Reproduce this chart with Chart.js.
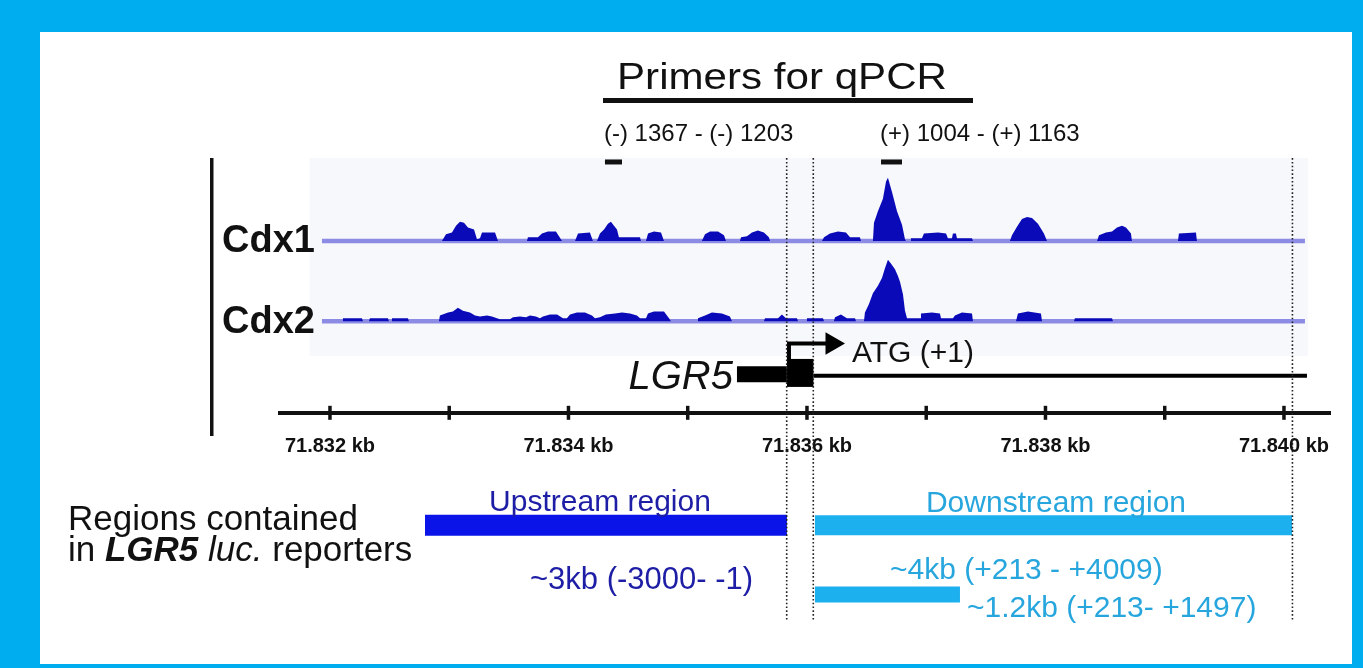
<!DOCTYPE html>
<html>
<head>
<meta charset="utf-8">
<script src="https://cdn.jsdelivr.net/npm/chart.js@4.4.1/dist/chart.umd.min.js"></script>
<style>
  html, body { margin: 0; padding: 0; }
  body { width: 1363px; height: 668px; background: #00aeef; position: relative; overflow: hidden; }
  #panel { position: absolute; left: 40px; top: 32px; width: 1312px; height: 632px; background: #fff; }
  #wrap { position: absolute; left: 0; top: 0; width: 1363px; height: 668px; }
</style>
</head>
<body>
<div id="panel"></div>
<div id="wrap"><canvas id="fig"></canvas></div>
<script>
// ---- values: positions in kb, coverage in arbitrary units ----
const tickValues = [71832, 71833, 71834, 71835, 71836, 71837, 71838, 71839, 71840];
const tickLabels = ['71.832 kb', '', '71.834 kb', '', '71.836 kb', '', '71.838 kb', '', '71.840 kb'];

const cdx1Coverage = [
  [71831.933, 0], [71832.939, 0], [71832.973, 7], [71833.023, 9], [71833.057, 16], [71833.090, 20],
  [71833.124, 19], [71833.157, 14], [71833.208, 12], [71833.233, 2], [71833.258, 3], [71833.275, 9],
  [71833.384, 9], [71833.409, 0],
  [71833.652, 0], [71833.660, 4], [71833.744, 4], [71833.778, 8], [71833.828, 10], [71833.895, 10], [71833.946, 0],
  [71834.055, 0], [71834.080, 8], [71834.180, 9], [71834.205, 0],
  [71834.239, 0], [71834.264, 8], [71834.298, 12], [71834.331, 18], [71834.356, 20], [71834.382, 16],
  [71834.407, 12], [71834.423, 4], [71834.600, 4], [71834.608, 0],
  [71834.650, 0], [71834.667, 8], [71834.717, 10], [71834.776, 9], [71834.801, 0],
  [71835.119, 0], [71835.145, 7], [71835.187, 10], [71835.254, 10], [71835.304, 6], [71835.321, 0],
  [71835.438, 0], [71835.447, 4], [71835.497, 5], [71835.539, 9], [71835.589, 11], [71835.639, 9],
  [71835.681, 4], [71835.690, 0],
  [71836.126, 0], [71836.143, 4], [71836.193, 8], [71836.260, 10], [71836.327, 9], [71836.361, 4],
  [71836.444, 4], [71836.453, 0],
  [71836.553, 0], [71836.562, 19], [71836.595, 31], [71836.637, 44], [71836.663, 62], [71836.679, 66],
  [71836.713, 51], [71836.755, 31], [71836.797, 17], [71836.822, 2], [71836.830, 0],
  [71836.864, 0], [71836.872, 3], [71836.964, 3], [71836.981, 8], [71837.099, 9], [71837.166, 8],
  [71837.182, 3], [71837.216, 3], [71837.224, 8], [71837.249, 8], [71837.258, 3], [71837.384, 3], [71837.392, 0],
  [71837.702, 0], [71837.719, 6], [71837.761, 15], [71837.803, 23], [71837.845, 25], [71837.887, 24],
  [71837.937, 18], [71837.987, 8], [71838.013, 0],
  [71838.432, 0], [71838.449, 6], [71838.507, 9], [71838.558, 10], [71838.600, 14], [71838.642, 16],
  [71838.675, 14], [71838.717, 8], [71838.725, 0],
  [71839.111, 0], [71839.119, 8], [71839.262, 9], [71839.270, 0],
  [71840.176, 0]
];

const cdx2Coverage = [
  [71831.933, 0], [71832.101, 0], [71832.109, 3], [71832.268, 3], [71832.277, 0], [71832.327, 0],
  [71832.335, 3], [71832.486, 3], [71832.495, 0], [71832.512, 0], [71832.520, 3], [71832.654, 3], [71832.662, 0],
  [71832.914, 0], [71832.922, 6], [71832.990, 9], [71833.031, 10], [71833.073, 14], [71833.115, 11],
  [71833.174, 9], [71833.216, 6], [71833.258, 5], [71833.317, 6], [71833.358, 5], [71833.400, 3],
  [71833.426, 2], [71833.509, 2], [71833.535, 4], [71833.593, 5], [71833.644, 4], [71833.677, 6],
  [71833.727, 5], [71833.761, 3], [71833.786, 5], [71833.845, 7], [71833.904, 7], [71833.954, 3],
  [71833.987, 3], [71834.013, 7], [71834.071, 9], [71834.138, 9], [71834.197, 6], [71834.222, 3],
  [71834.264, 4], [71834.314, 7], [71834.390, 8], [71834.449, 9], [71834.516, 8], [71834.574, 6],
  [71834.600, 3], [71834.650, 3], [71834.667, 8], [71834.717, 10], [71834.801, 10], [71834.843, 3], [71834.860, 0],
  [71835.078, 0], [71835.086, 3], [71835.145, 6], [71835.203, 9], [71835.287, 8], [71835.354, 5], [71835.371, 0],
  [71835.639, 0], [71835.648, 3], [71835.757, 3], [71835.790, 7], [71835.824, 3], [71835.916, 3], [71835.925, 0],
  [71835.992, 0], [71836.000, 3], [71836.134, 3], [71836.143, 0],
  [71836.226, 0], [71836.235, 4], [71836.285, 7], [71836.335, 3], [71836.403, 3], [71836.411, 0],
  [71836.478, 0], [71836.486, 9], [71836.520, 18], [71836.553, 29], [71836.595, 37], [71836.629, 45],
  [71836.654, 55], [71836.679, 64], [71836.704, 60], [71836.738, 54], [71836.763, 47], [71836.780, 41],
  [71836.805, 28], [71836.822, 11], [71836.839, 3], [71836.948, 3], [71836.956, 8], [71837.048, 9],
  [71837.115, 8], [71837.124, 3], [71837.224, 3], [71837.241, 6], [71837.300, 9], [71837.384, 8], [71837.392, 0],
  [71837.753, 0], [71837.769, 8], [71837.853, 10], [71837.962, 8], [71837.971, 0],
  [71838.239, 0], [71838.247, 3], [71838.558, 3], [71838.566, 0],
  [71840.176, 0]
];

const trackSpan = [71831.933, 71840.176];
const primerRanges = [[71834.306, 71834.449], [71836.621, 71836.797]];
const primerLabels = ['(-) 1367 - (-) 1203', '(+) 1004 - (+) 1163'];
const geneUtr = [71835.413, 71835.832];
const geneExon = [71835.832, 71836.054];
const geneIntron = [71836.054, 71840.193];
const tssArrow = [71835.849, 71836.21];
const boundaryLines = [71835.830, 71836.053, 71840.071];
const upstreamRegion = [71832.797, 71835.832];
const downstreamRegion = [71836.067, 71840.067];
const shortDownstream = [71836.067, 71837.283];

// ---- layout ----
const FONT = '"Liberation Sans", Arial, Helvetica, sans-serif';
const ROW = { primer: 155, gene: 376, arrow: 344, axis: 416, regions: 533, short: 605, dotTop: 151, dotBottom: 633 };
const CDX1_BASE = 237.3, CDX2_BASE = 320.7, H = 668;
const COV = '#0a0ab8', BASE = '#8c8ce4';
const UP_BAR = '#0a14e8', UP_TXT = '#1d1da6', DN_BAR = '#1cb0ee', DN_TXT = '#27a6de';

Chart.defaults.font.family = FONT;

// a straight segment between two kb positions on one row
function seg(range, y, color, width, order) {
  return {
    data: [{ x: range[0], y: y }, { x: range[1], y: y }],
    yAxisID: 'yPx', borderColor: color, borderWidth: width, borderCapStyle: 'butt',
    pointRadius: 0, fill: false, order: order === undefined ? 2 : order
  };
}

function coverage(points, axis) {
  return {
    data: points.map(p => ({ x: p[0], y: p[1] })),
    yAxisID: axis, borderColor: 'rgba(0,0,0,0)', backgroundColor: COV, borderWidth: 1,
    fill: 'origin', pointRadius: 0, tension: 0, order: 3
  };
}

function baseline(axis) {
  return {
    data: [{ x: trackSpan[0], y: 0 }, { x: trackSpan[1], y: 0 }],
    yAxisID: axis, borderColor: BASE, borderWidth: 4.5, pointRadius: 0, fill: false, order: 4
  };
}

const datasets = [
  baseline('yCdx1'), baseline('yCdx2'),
  coverage(cdx1Coverage, 'yCdx1'), coverage(cdx2Coverage, 'yCdx2'),
  ...primerRanges.map(r => seg(r, ROW.primer, '#111', 5)),
  seg(geneIntron, ROW.gene + 1.5, '#000', 4),
  seg(geneUtr, ROW.gene, '#000', 16),
  seg(geneExon, ROW.gene - 1.5, '#000', 28),
  {
    data: [{ x: tssArrow[0], y: ROW.gene - 15 }, { x: tssArrow[0], y: ROW.arrow }, { x: tssArrow[1], y: ROW.arrow }],
    yAxisID: 'yPx', borderColor: '#000', borderWidth: 4, borderJoinStyle: 'miter', fill: false,
    pointRadius: [0, 0, 13], pointStyle: 'triangle', pointRotation: 90,
    pointBackgroundColor: '#000', pointBorderWidth: 0, order: 1
  },
  {
    data: tickValues.map(v => ({ x: v, y: ROW.axis })),
    yAxisID: 'yPx', showLine: false, pointStyle: 'line', pointRotation: 90, pointRadius: 7,
    pointBorderWidth: 3.5, pointBorderColor: '#111', order: 2
  },
  seg(upstreamRegion, ROW.regions, UP_BAR, 21),
  seg(downstreamRegion, ROW.regions, DN_BAR, 20),
  seg(shortDownstream, ROW.short, DN_BAR, 16),
  ...boundaryLines.map(b => ({
    data: [{ x: b, y: ROW.dotTop }, { x: b, y: ROW.dotBottom }],
    yAxisID: 'yPx', borderColor: '#222', borderWidth: 1.6, borderDash: [1.6, 2.2],
    pointRadius: 0, fill: false, order: 0
  }))
];

// text helper; sx widens the glyphs the way the source figure was stretched
function put(ctx, text, x, y, size, color, align, style, sx) {
  ctx.save();
  ctx.font = (style || '') + ' ' + size + 'px ' + FONT;
  ctx.fillStyle = color;
  ctx.textAlign = align || 'left';
  ctx.textBaseline = 'alphabetic';
  ctx.translate(x, y);
  ctx.scale(sx || 1, 1);
  ctx.fillText(text, 0, 0);
  ctx.restore();
}

function putRuns(ctx, runs, x, y, size, color) {
  let cx = x;
  ctx.textAlign = 'left';
  ctx.textBaseline = 'alphabetic';
  ctx.fillStyle = color;
  runs.forEach(([t, style]) => {
    ctx.font = style + ' ' + size + 'px ' + FONT;
    ctx.fillText(t, cx, y);
    cx += ctx.measureText(t).width;
  });
}

const decor = {
  id: 'decor',
  beforeDatasetsDraw(chart) {
    const ctx = chart.ctx, x = chart.scales.x;
    ctx.save();
    // faint track panel behind the coverage tracks
    const l = x.getPixelForValue(71831.83), r = x.getPixelForValue(71840.20);
    ctx.fillStyle = '#f7f8fb';
    ctx.fillRect(l, 158, r - l, 198);
    ctx.restore();
  },
  afterDraw(chart) {
    const ctx = chart.ctx, x = chart.scales.x;
    ctx.save();
    // title and its rule
    put(ctx, 'Primers for qPCR', 782, 89, 36, '#111', 'center', '', 1.17);
    ctx.fillStyle = '#111';
    ctx.fillRect(603, 98, 370, 5);
    primerLabels.forEach((t, i) => put(ctx, t, x.getPixelForValue(primerRanges[i][0]) - 1, 141, 24, '#111'));
    // left bracket of the track block
    ctx.fillStyle = '#111';
    ctx.fillRect(210, 158, 3.5, 278);
    put(ctx, 'Cdx1', 222, 252, 38, '#111', 'left', 'bold');
    put(ctx, 'Cdx2', 222, 333, 38, '#111', 'left', 'bold');
    put(ctx, 'LGR5', 733, 389, 40, '#111', 'right', 'italic');
    put(ctx, 'ATG (+1)', 852, 362, 30, '#111');
    // reporter regions
    put(ctx, 'Regions contained', 68, 530, 35, '#111');
    putRuns(ctx, [['in ', ''], ['LGR5', 'italic bold'], [' ', ''], ['luc.', 'italic'], [' reporters', '']], 68, 561, 35, '#111');
    put(ctx, 'Upstream region', 600, 511, 30, UP_TXT, 'center');
    put(ctx, 'Downstream region', 1056, 512, 30, DN_TXT, 'center');
    put(ctx, '~3kb (-3000- -1)', 530, 589, 31, UP_TXT);
    put(ctx, '~4kb (+213 - +4009)', 890, 579, 30, DN_TXT);
    put(ctx, '~1.2kb (+213- +1497)', 967, 617, 30, DN_TXT);
    ctx.restore();
  }
};

new Chart(document.getElementById('fig'), {
  type: 'line',
  data: { datasets: datasets },
  options: {
    responsive: true,
    maintainAspectRatio: false,
    animation: false,
    events: [],
    layout: { padding: { left: 280, right: 33, top: 0, bottom: 0 } },
    plugins: { legend: { display: false }, tooltip: { enabled: false } },
    scales: {
      x: {
        type: 'linear', min: 71831.581, max: 71840.386, bounds: 'data',
        position: { yPx: ROW.axis },
        grid: { display: false, drawTicks: false },
        border: { display: true, color: '#111', width: 4 },
        afterBuildTicks: ax => { ax.ticks = tickValues.map(v => ({ value: v })); },
        ticks: {
          autoSkip: false, maxRotation: 0, padding: 22, color: '#111',
          font: { size: 20, weight: 'bold' },
          callback: (v, i) => tickLabels[i]
        }
      },
      yPx: { type: 'linear', display: false, reverse: true, min: 0, max: H, bounds: 'data' },
      yCdx1: { type: 'linear', display: false, min: CDX1_BASE - H, max: CDX1_BASE, bounds: 'data' },
      yCdx2: { type: 'linear', display: false, min: CDX2_BASE - H, max: CDX2_BASE, bounds: 'data' }
    }
  },
  plugins: [decor]
});
</script>
</body>
</html>
